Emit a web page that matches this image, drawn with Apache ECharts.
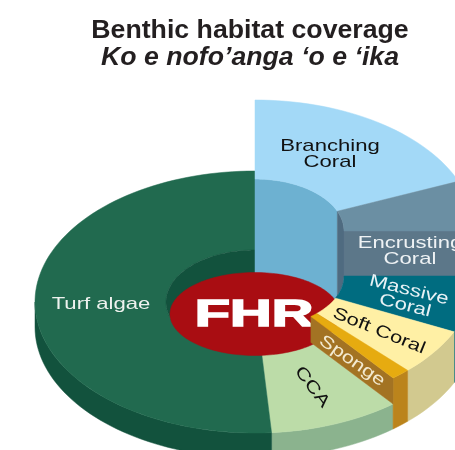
<!DOCTYPE html>
<html><head><meta charset="utf-8">
<style>html,body{margin:0;padding:0;background:#fff}#c{width:455px;height:450px}</style>
<script src="https://cdn.jsdelivr.net/npm/echarts@6/dist/echarts.min.js"></script>
</head><body><div id="c"></div>
<script>
// ---- data ----
const categories = ["Branching\nCoral","Encrusting\nCoral","Massive\nCoral","Soft Coral","Sponge","CCA","Turf algae"];
const values = [18.8, 6.2, 7.0, 5.8, 1.4, 9.6, 51.2];
const titleText = "Benthic habitat coverage";
const subtitleText = "Ko e nofo’anga ‘o e ‘ika";
const hubText = "FHR";

// ---- drawing setup ----
const CX=255, BASE=302, RX=220, RY=131, IX=89, IY=52, DEPTH=25;
const HUB={cy:314,rx:85,ry:41.5};
const lift=[71,71,26,26,26,0,0];
const topCol=["#a3d9f7","#6b8fa3","#006c80","#fff0a5","#e6ab10","#bcdca8","#216a4f"];
const wallCol=["#6db1d1","#5c7789","#006c80","#d2c98f","#bb841c","#8bb38e","#12523d"];
const labelCol=["#111","#eef2f4","#e8f2f5","#111","#f3ead0","#111","#eef2ee"];
const labelPos=[[330,154.5,0],[410,251.5,0],[407,298,14],[379,331,22],[352,361,35],[312,387,53],[101,304.5,0]];
const total=values.reduce((a,b)=>a+b,0);
const bounds=[0]; values.forEach(v=>bounds.push(bounds[bounds.length-1]+v/total*360));
const rad=d=>d*Math.PI/180;
const P=(a,rx,ry,cy)=>[CX+rx*Math.sin(rad(a)),cy-ry*Math.cos(rad(a))];
function arc(a0,a1,rx,ry,cy){const n=Math.max(2,Math.ceil(Math.abs(a1-a0)/2));const o=[];for(let i=0;i<=n;i++)o.push(P(a0+(a1-a0)*i/n,rx,ry,cy));return o;}
const poly=(pts,fill,z2)=>({type:'polygon',z2,shape:{points:pts},style:{fill,stroke:fill,lineWidth:0.5}});

function renderSlice(params,api){
  const i=params.dataIndex, a0=bounds[i], a1=bounds[i+1], cy=BASE-lift[i];
  const d=DEPTH+lift[i], ch=[];
  const topZ=(i>=3&&i<=4)?30:(i<=2?20:5);
  // top surface
  ch.push(poly(arc(a0,a1,RX,RY,cy).concat(arc(a1,a0,IX,IY,cy)),topCol[i],topZ));
  // outer wall on the front half
  const w0=Math.max(a0,90), w1=Math.min(a1,270);
  if(w1>w0){const up=arc(w0,w1,RX,RY,cy);const dn=arc(w1,w0,RX,RY,cy+d);ch.push(poly(up.concat(dn),wallCol[i],topZ-1));}
  if(i===0){ // inner wall down to the hub
    const ar=arc(a0,a1,IX,IY,cy);const e=ar[ar.length-1];
    ch.push(poly(ar.concat([[e[0],HUB.cy],[CX,HUB.cy]]),wallCol[0],8));
  }
  if(i===1){ // cut face and inner strip
    const f=lift[1]-lift[2];
    ch.push(poly([P(a1,IX,IY,cy),P(a1,RX,RY,cy),P(a1,RX,RY,cy+f),P(a1,IX,IY,cy+f)],wallCol[1],19));
    const s1=arc(a0,a1,IX,IY,cy), s2=arc(a1,bounds[3],IX,IY,cy+f);
    const e=s2[s2.length-1];
    ch.push(poly(s1.concat(s2,[[s1[0][0],e[1]+6]]),"#4f6b80",18));
  }
  if(i===4){ // radial cut face of the sponge slice
    ch.push(poly([P(a1,IX,IY,cy),P(a1,RX,RY,cy),P(a1,RX,RY,BASE),P(a1,IX,IY,BASE)],"#a37323",29));
  }
  if(i===6){ // inner wall of the hole on the left
    ch.push(poly(arc(180,360,IX,IY,BASE),wallCol[6],6));
  }
  const L=labelPos[i];
  ch.push({type:'text',x:L[0],y:L[1],rotation:-rad(L[2]),scaleX:1.3,z2:40,
    style:{text:categories[api.value(1)],fill:labelCol[i],font:'17px "Liberation Sans"',lineHeight:16,align:'center',verticalAlign:'middle'}});
  return {type:'group',children:ch};
}
function renderHub(){
  const pts=arc(0,360,HUB.rx,HUB.ry,HUB.cy);
  return {type:'group',children:[
    poly(pts,"#a90d12",10),
    {type:'text',x:254,y:316,scaleX:1.56,z2:11,style:{text:hubText,fill:"#fff",stroke:"#fff",lineWidth:1.5,font:'bold 37px "Liberation Sans"',align:'center',verticalAlign:'middle'}}
  ]};
}
const chart=echarts.init(document.getElementById('c'),null,{renderer:'canvas'});
chart.setOption({
  animation:false,
  title:[
    {text:titleText,left:245,top:12,textAlign:'center',textStyle:{color:'#231f20',fontFamily:'Liberation Sans',fontWeight:'bold',fontSize:26.7}},
    {text:subtitleText,left:245,top:39,textAlign:'center',textStyle:{color:'#231f20',fontFamily:'Liberation Sans',fontWeight:'bold',fontStyle:'italic',fontSize:26.7}}
  ],
  series:[
    {type:'custom',name:'coverage',coordinateSystem:'none',silent:true,clip:false,renderItem:renderSlice,
     data:values.map((v,i)=>[v,i])},
    {type:'custom',name:'site',coordinateSystem:'none',silent:true,renderItem:renderHub,data:[[0]]}
  ]
});
</script></body></html>
